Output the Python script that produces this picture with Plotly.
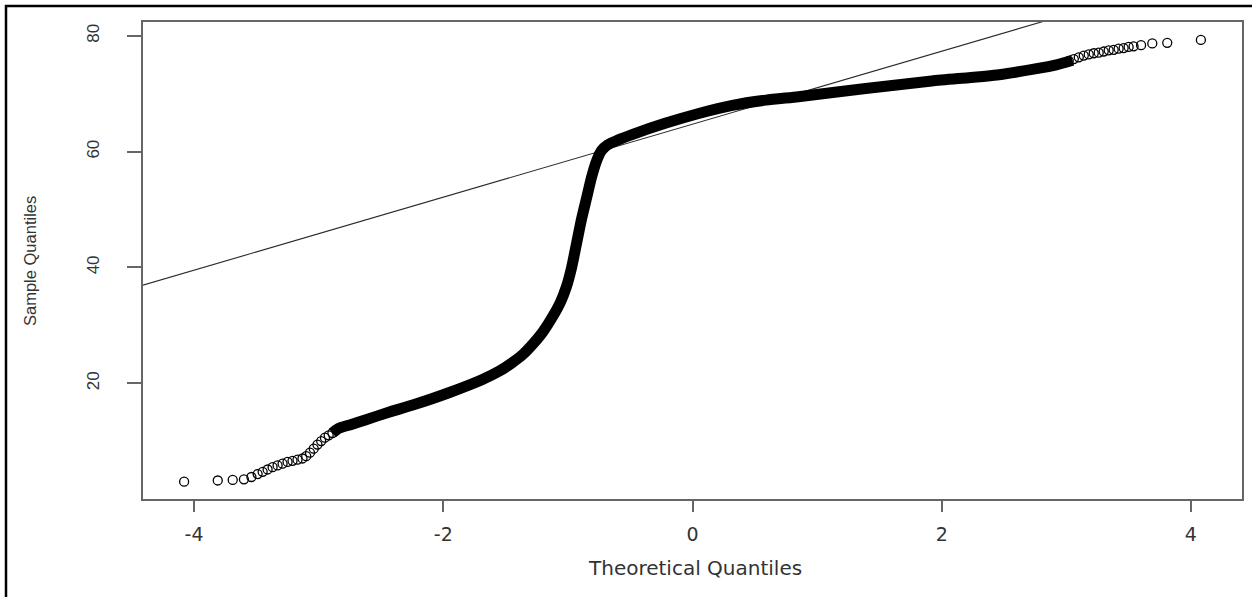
import plotly.graph_objects as go

# Normal Q-Q plot: sample quantiles against theoretical normal quantiles

# Sparse lower tail (individual open circles)
theoretical_lower = [-4.08, -3.81, -3.69, -3.60, -3.54, -3.49, -3.45, -3.41, -3.37,
                     -3.33, -3.29, -3.25, -3.21, -3.17, -3.13, -3.10, -3.07, -3.04,
                     -3.01, -2.98, -2.95, -2.92, -2.89]
sample_lower = [3.0, 3.2, 3.3, 3.4, 3.8, 4.3, 4.7, 5.1, 5.5,
                5.8, 6.1, 6.4, 6.6, 6.8, 7.0, 7.4, 8.0, 8.7,
                9.4, 10.0, 10.6, 11.0, 11.4]

# Dense central body (points overlap into a solid band)
theoretical_body = [-2.89, -2.84, -2.75, -2.62, -2.45, -2.22, -1.95, -1.69, -1.55,
                    -1.45, -1.36, -1.28, -1.20, -1.12, -1.06, -1.01, -0.97, -0.93,
                    -0.89, -0.85, -0.81, -0.77, -0.73, -0.68, -0.60, -0.48, -0.22,
                    0.05, 0.32, 0.59, 0.85, 1.39, 1.92, 2.46, 2.75, 2.92, 3.05]
sample_body = [11.4, 12.2, 12.8, 13.7, 14.9, 16.4, 18.4, 20.6, 22.1,
               23.5, 25.0, 26.8, 28.9, 31.6, 34.0, 36.8, 40.0, 44.2,
               48.4, 52.0, 55.6, 58.4, 60.2, 61.2, 62.0, 63.0, 64.9,
               66.6, 68.0, 68.9, 69.5, 70.9, 72.2, 73.3, 74.3, 75.0, 75.8]

# Sparse upper tail (individual open circles)
theoretical_upper = [3.02, 3.06, 3.10, 3.14, 3.18, 3.22, 3.26, 3.30, 3.34,
                     3.38, 3.42, 3.46, 3.50, 3.54, 3.60, 3.69, 3.81, 4.08]
sample_upper = [75.7, 76.0, 76.3, 76.6, 76.8, 77.0, 77.1, 77.3, 77.5,
                77.6, 77.8, 77.9, 78.1, 78.2, 78.4, 78.7, 78.8, 79.3]

# Reference line through the first and third quartiles
quartile_theoretical = [-0.674, 0.674]
quartile_sample = [60.5, 69.0]

x_tick_values = [-4, -2, 0, 2, 4]
x_tick_labels = ["-4", "-2", "0", "2", "4"]
y_tick_values = [20, 40, 60, 80]
y_tick_labels = ["20", "40", "60", "80"]

X_RANGE = [-4.41, 4.41]
Y_RANGE = [0.0, 82.4]

W, H = 1252, 597
ML, MR, MT, MB = 143, 10, 22, 98
PW, PH = W - ML - MR, H - MT - MB


def paper_x(px):
    return (px - ML) / PW


def paper_y(py):
    return (H - MB - py) / PH


slope = (quartile_sample[1] - quartile_sample[0]) / (quartile_theoretical[1] - quartile_theoretical[0])
intercept = quartile_sample[0] - slope * quartile_theoretical[0]
line_x = [X_RANGE[0] - 0.2, X_RANGE[1] + 0.2]
line_y = [intercept + slope * v for v in line_x]

fig = go.Figure()

fig.add_trace(go.Scatter(
    x=line_x, y=line_y, mode="lines",
    line=dict(color="#2a2a2a", width=1.1),
    hoverinfo="skip", showlegend=False,
))

fig.add_trace(go.Scatter(
    x=theoretical_body, y=sample_body, mode="lines",
    line=dict(color="#000000", width=11, shape="spline", smoothing=0.6),
    showlegend=False,
))

for tx, sy in ((theoretical_lower, sample_lower), (theoretical_upper, sample_upper)):
    fig.add_trace(go.Scatter(
        x=tx, y=sy, mode="markers",
        marker=dict(symbol="circle-open", size=9, color="#000000",
                    line=dict(width=1.3, color="#000000")),
        showlegend=False,
    ))

axis_font = dict(family="DejaVu Sans", size=19, color="#333333")

fig.update_xaxes(
    range=X_RANGE, tickmode="array", tickvals=x_tick_values, ticktext=x_tick_labels,
    ticks="outside", ticklen=11, tickwidth=1.5, tickcolor="#666666",
    tickfont=axis_font, ticklabelstandoff=6,
    showline=True, linecolor="#666666", linewidth=1.5, mirror=True,
    showgrid=False, zeroline=False, fixedrange=True,
)
fig.update_yaxes(
    range=Y_RANGE, tickmode="array", tickvals=y_tick_values, ticktext=y_tick_labels,
    ticks="outside", ticklen=14, tickwidth=1.5, tickcolor="#666666",
    tickangle=-90, tickfont=dict(family="Liberation Sans", size=17, color="#333333"),
    ticklabelstandoff=21,
    showline=True, linecolor="#666666", linewidth=1.5, mirror=True,
    showgrid=False, zeroline=False, fixedrange=True,
)

fig.add_annotation(
    x=paper_x(695), y=paper_y(568), xref="paper", yref="paper",
    text="Theoretical Quantiles", showarrow=False,
    xanchor="center", yanchor="middle",
    font=dict(family="DejaVu Sans", size=20, color="#333333"),
)
fig.add_annotation(
    x=paper_x(30), y=paper_y(261), xref="paper", yref="paper",
    text="Sample Quantiles", showarrow=False, textangle=-90,
    xanchor="center", yanchor="middle",
    font=dict(family="Liberation Sans", size=16.5, color="#333333"),
)

# Outer frame around the figure
fig.add_shape(
    type="rect", xref="paper", yref="paper",
    x0=paper_x(6), x1=paper_x(W + 10), y0=paper_y(H + 10), y1=paper_y(6),
    line=dict(color="#000000", width=2.5), fillcolor="rgba(0,0,0,0)",
    layer="above",
)

fig.update_layout(
    width=W, height=H,
    margin=dict(l=ML, r=MR, t=MT, b=MB, autoexpand=False),
    paper_bgcolor="#ffffff", plot_bgcolor="#ffffff",
    showlegend=False,
)

fig.write_html("out.html", config={"displayModeBar": False})
